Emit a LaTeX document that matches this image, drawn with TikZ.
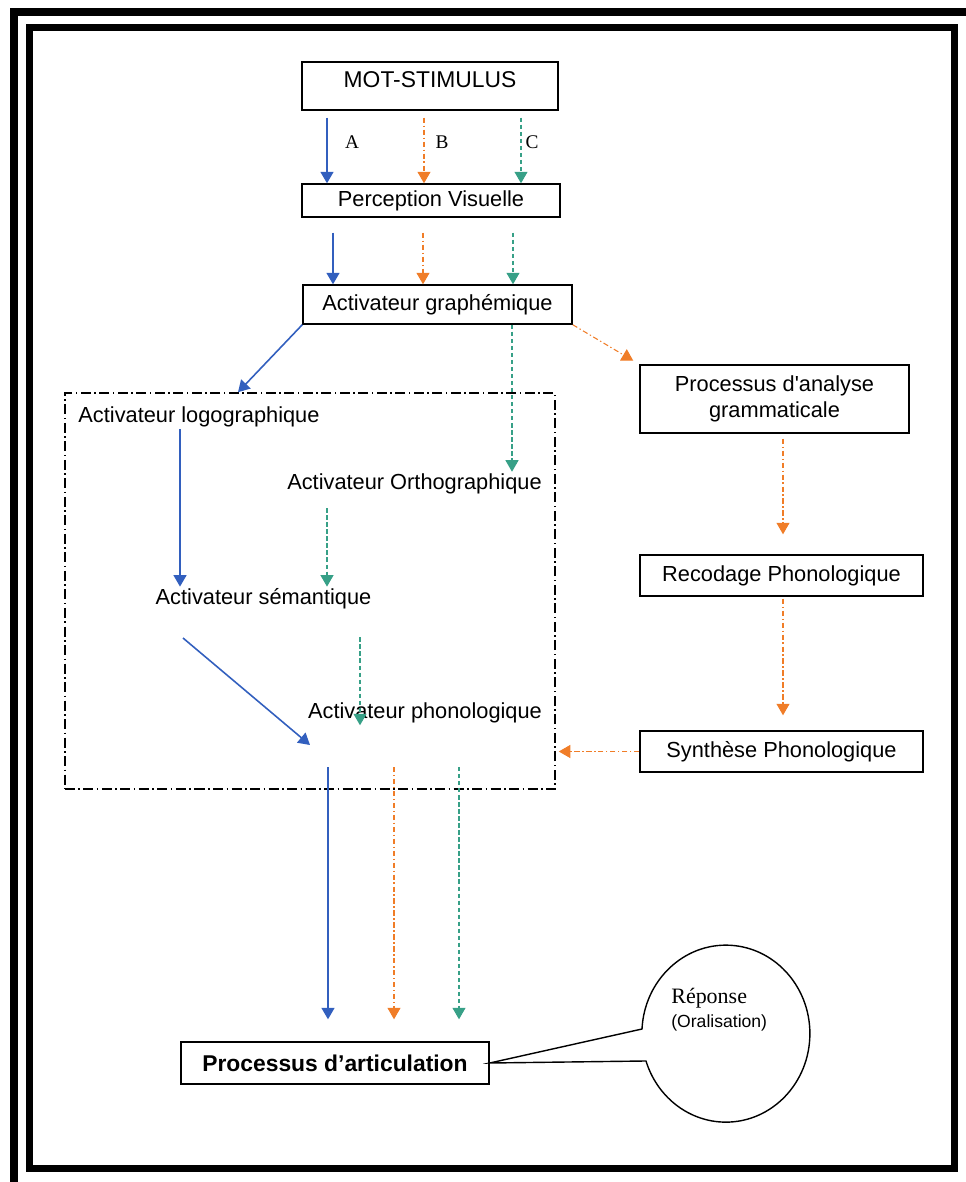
\documentclass[tikz,border=0pt]{standalone}
\usepackage{fontspec}
\setmainfont{Liberation Serif}
\setsansfont{Liberation Sans}
\usetikzlibrary{arrows.meta}
\definecolor{bleuA}{RGB}{50,95,190}
\definecolor{orangeB}{RGB}{240,125,40}
\definecolor{vertC}{RGB}{55,160,135}
\tikzset{
    module/.style={draw, line width=0.8pt, inner sep=0pt, align=center, font=\sffamily\fontsize{12.4}{15}\selectfont},
    activ/.style={inner sep=1pt, font=\sffamily\fontsize{12.4}{15}\selectfont},
    lettre/.style={inner sep=0pt, font=\rmfamily\fontsize{11}{13}\selectfont},
    pointe/.style={-{Triangle[width=2.6mm,length=2.3mm]}},
    cheminA/.style={pointe, draw=bleuA, line width=0.9pt},
    cheminB/.style={pointe, draw=orangeB, line width=0.6pt, dash pattern=on 3pt off 1.5pt on 0.8pt off 1.5pt},
    cheminC/.style={pointe, draw=vertC, line width=0.6pt, dash pattern=on 2.5pt off 1.5pt}
}
\begin{document}
\begin{tikzpicture}[x=0.2mm, y=-0.2mm]
    \useasboundingbox (0,0) rectangle (965,1182);
    \draw[line width=1.6mm] (14,11.5) rectangle (980,1195);
    \draw[line width=1.4mm] (29.5,27.5) rectangle (954,1168.5);
    % modules
    \node[module, minimum width=51.2mm, minimum height=9.6mm, text depth=0.7em, font=\sffamily\fontsize{13}{15}\selectfont] (mot) at (430,86) {MOT-STIMULUS};
    \node[module, minimum width=51.6mm, minimum height=6.6mm] (perc) at (431,200.5) {Perception Visuelle};
    \node[module, minimum width=53.8mm, minimum height=7.8mm] (graph) at (437.5,304.5) {Activateur graphémique};
    \node[module, minimum width=53.8mm, minimum height=13.6mm] (analyse) at (774.5,399) {Processus d\textquotesingle analyse\\grammaticale};
    \node[module, minimum width=56.6mm, minimum height=8.2mm] (recod) at (781.5,575.5) {Recodage Phonologique};
    \node[module, minimum width=56.6mm, minimum height=8.2mm] (synth) at (781.5,751.5) {Synthèse Phonologique};
    \node[module, minimum width=61.6mm, minimum height=8.4mm, font=\sffamily\bfseries\fontsize{13}{15}\selectfont] (artic) at (335,1063) {Processus d’articulation};
    \node[draw, line width=0.9pt, dash pattern=on 2mm off 0.7mm on 0.3mm off 0.7mm, minimum width=98mm, minimum height=79.2mm] (lex) at (310,591) {};
    \node[activ] (logo) at (199,417) {Activateur logographique};
    \node[activ] (ortho) at (414.5,484) {Activateur Orthographique};
    \node[activ] (sem) at (263.5,599) {Activateur sémantique};
    \node[activ] (phono) at (425,713) {Activateur phonologique};
    % voies A, B, C
    \draw[cheminA, shorten <=1.4mm] (mot.south -| 327,0) -- (perc.north -| 327,0);
    \draw[cheminB, shorten <=1.4mm] (mot.south -| 424,0) -- (perc.north -| 424,0);
    \draw[cheminC, shorten <=1.4mm] (mot.south -| 521,0) -- (perc.north -| 521,0);
    \node[lettre] (labA) at (352,142) {A};
    \node[lettre] (labB) at (442,142) {B};
    \node[lettre] (labC) at (532,142) {C};
    \draw[cheminA, shorten <=3mm] (perc.south -| 333,0) -- (graph.north -| 333,0);
    \draw[cheminB, shorten <=3mm] (perc.south -| 423,0) -- (graph.north -| 423,0);
    \draw[cheminC, shorten <=3mm] (perc.south -| 513,0) -- (graph.north -| 513,0);
    \draw[cheminA] (graph.south west) -- (lex.north -| 238,0);
    \draw[cheminC] (graph.south -| 512,0) -- (ortho.north -| 512,0);
    \draw[cheminB, shorten >=1.4mm] (graph.south east) -- (analyse.north west);
    \draw[cheminA] (logo.south -| 180,0) -- (sem.north -| 180,0);
    \draw[cheminC, shorten <=2.4mm] (ortho.south -| 327,0) -- (sem.north -| 327,0);
    \coordinate (semA) at (183,638);
    \coordinate (phonoA) at (310,745);
    \draw[cheminA] (semA) -- (phonoA);
    \draw[cheminC, shorten <=5.2mm] (sem.south -| 360,0) -- (phono.south -| 360,0);
    \draw[cheminB, shorten <=1mm, shorten >=4mm] (analyse.south -| 783,0) -- (recod.north -| 783,0);
    \draw[cheminB, shorten <=0.4mm, shorten >=3mm] (recod.south -| 783,0) -- (synth.north -| 783,0);
    \draw[cheminB, shorten >=0.6mm] (synth.west) -- (lex.east |- synth.west);
    \coordinate (sortieA) at (328,767);
    \coordinate (sortieB) at (394,767);
    \coordinate (sortieC) at (459,767);
    \draw[cheminA, shorten >=4.4mm] (sortieA) -- (artic.north -| sortieA);
    \draw[cheminB, shorten >=4.4mm] (sortieB) -- (artic.north -| sortieB);
    \draw[cheminC, shorten >=4.4mm] (sortieC) -- (artic.north -| sortieC);
    % bulle
    \draw[line width=0.8pt] (artic.east) -- (642,1029) arc[start angle=177, end angle=-162, x radius=16.8mm, y radius=17.7mm] -- cycle;
    \node[inner sep=0pt, anchor=west, font=\rmfamily\fontsize{12.5}{15}\selectfont] (rep) at (671,998) {Réponse};
    \node[inner sep=0pt, anchor=west, font=\sffamily\fontsize{10}{12}\selectfont] (oral) at (671,1023) {(Oralisation)};
\end{tikzpicture}
\end{document}
